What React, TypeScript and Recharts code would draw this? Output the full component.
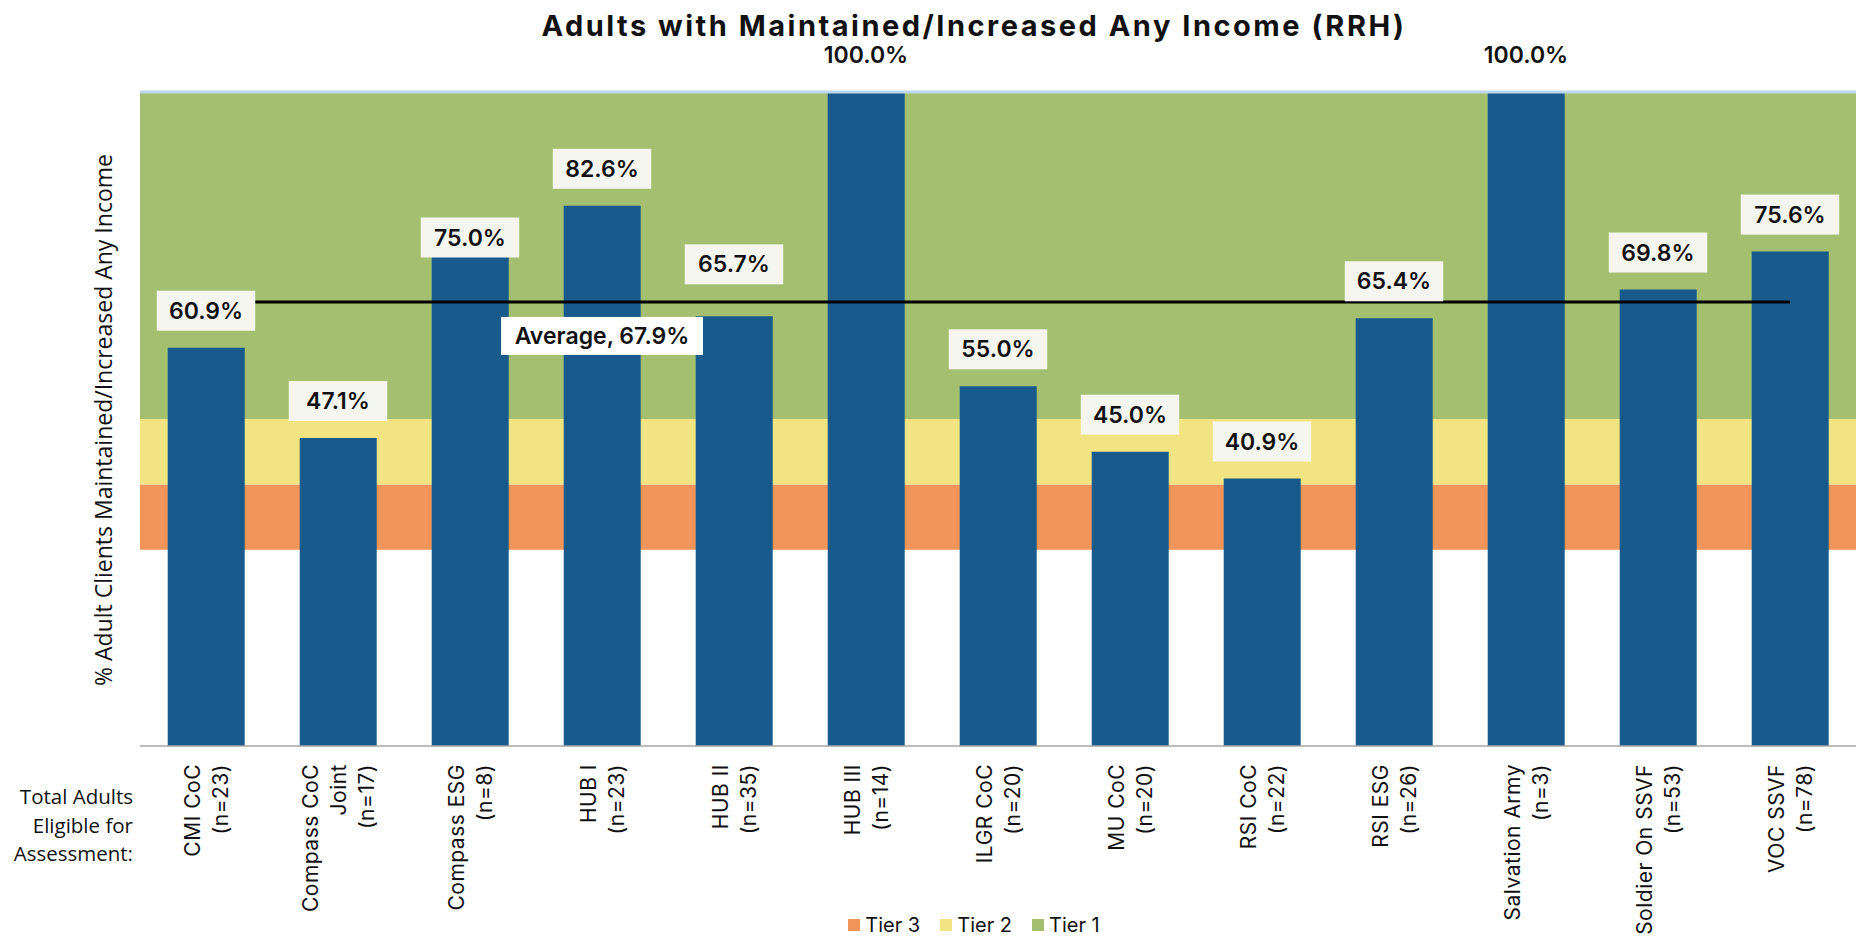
import React from 'react'
import {
  ComposedChart,
  Bar,
  Line,
  XAxis,
  YAxis,
  ReferenceArea,
  ReferenceLine,
  ReferenceDot,
  LabelList,
} from 'recharts'

const programs = [
  'CMI CoC',
  'Compass CoC\nJoint',
  'Compass ESG',
  'HUB I',
  'HUB II',
  'HUB III',
  'ILGR CoC',
  'MU CoC',
  'RSI CoC',
  'RSI ESG',
  'Salvation Army',
  'Soldier On SSVF',
  'VOC SSVF',
]
const eligible = [23, 17, 8, 23, 35, 14, 20, 20, 22, 26, 3, 53, 78]
const pctMaintained = [60.9, 47.1, 75.0, 82.6, 65.7, 100.0, 55.0, 45.0, 40.9, 65.4, 100.0, 69.8, 75.6]
const average = 67.9
const averageLabelAt = 'HUB I'

const tierNames = ['Tier 3', 'Tier 2', 'Tier 1']
const tierLow = [30, 40, 50]
const tierHigh = [40, 50, 100]
const tierColors = ['#F2955B', '#F2E482', '#A3BF6F']

const W = 1858
const H = 938
const PLOT_TOP = 92
const GEO = 'Inter, "Noto Sans", sans-serif'
const HUM = '"Open Sans", Lato, sans-serif'
const BAR = '#185A8B'
const FRAME = '#A6A6A6'

// a couple of the data labels were dragged by hand in the original
const labelNudge: Record<number, number> = { 2: 19, 4: -15 }

const rows = programs.map((p, i) => ({
  name: `${p}\n(n=${eligible[i]})`,
  value: pctMaintained[i],
}))
const avgRow = rows[programs.indexOf(averageLabelAt)]

function ProgramTick({ x, y, payload }: any) {
  const lines = String(payload.value).split('\n')
  return (
    <g transform={`translate(${x},${y + 18}) rotate(-90)`}>
      {lines.map((l, i) => (
        <text
          key={i}
          x={0}
          y={(i - (lines.length - 1) / 2) * 28}
          textAnchor="end"
          dominantBaseline="central"
          fontFamily={GEO}
          fontSize={21}
          letterSpacing={0.5}
          fill="#111"
        >
          {l}
        </text>
      ))}
    </g>
  )
}

function ValueBadge(props: any) {
  const x = props.x ?? props.viewBox?.x
  const y = props.y ?? props.viewBox?.y
  const text = `${Number(props.value).toFixed(1)}%`
  const cy = y - 37 + (labelNudge[props.index] ?? 0)
  const w = text.length * 14.5 + 26
  const boxTop = cy - 20
  return (
    <g>
      <rect x={x - w / 2} y={boxTop} width={w} height={40} fill={boxTop < PLOT_TOP ? '#FFFFFF' : '#F5F6F0'} />
      <text
        x={x}
        y={cy}
        textAnchor="middle"
        dominantBaseline="central"
        fontFamily={GEO}
        fontWeight={600}
        fontSize={23}
        fill="#111"
      >
        {text}
      </text>
    </g>
  )
}

function AverageBadge({ viewBox }: any) {
  const cx = viewBox.x + viewBox.width / 2
  const cy = viewBox.y + viewBox.height / 2 + 34
  const text = `Average, ${average.toFixed(1)}%`
  return (
    <g>
      <rect x={cx - 101} y={cy - 19} width={202} height={38} fill="#FFFFFF" />
      <text
        x={cx}
        y={cy}
        textAnchor="middle"
        dominantBaseline="central"
        fontFamily={GEO}
        fontWeight={600}
        fontSize={23}
        fill="#111"
      >
        {text}
      </text>
    </g>
  )
}

export default function App() {
  return (
    <div style={{ position: 'absolute', left: 0, top: 0, width: W, height: H, background: '#fff', overflow: 'hidden' }}>
      <ComposedChart width={W} height={H} data={rows} margin={{ top: PLOT_TOP, right: 2, bottom: 0, left: 140 }} barCategoryGap="21%">
        <XAxis
          dataKey="name"
          interval={0}
          height={192}
          tickLine={false}
          tickSize={0}
          tickMargin={0}
          axisLine={{ stroke: FRAME, strokeWidth: 1.5 }}
          tick={<ProgramTick />}
        />
        <YAxis domain={[0, 100]} width={0} tick={false} tickLine={false} axisLine={{ stroke: FRAME, strokeWidth: 1.5 }} />
        <YAxis
          yAxisId="r"
          orientation="right"
          domain={[0, 100]}
          width={0}
          tick={false}
          tickLine={false}
          axisLine={{ stroke: FRAME, strokeWidth: 1.5 }}
        />
        {tierNames.map((t, i) => (
          <ReferenceArea key={t} y1={tierLow[i]} y2={tierHigh[i]} fill={tierColors[i]} fillOpacity={1} stroke="none" />
        ))}
        <ReferenceLine y={100} stroke="#BDD7EE" strokeWidth={3} />
        <Bar dataKey="value" fill={BAR} isAnimationActive={false} />
        <ReferenceLine
          segment={[
            { x: rows[0].name, y: average },
            { x: rows[rows.length - 1].name, y: average },
          ]}
          stroke="#000"
          strokeWidth={3}
        />
        <ReferenceDot x={avgRow.name} y={average} r={1} fill="none" stroke="none" label={<AverageBadge />} />
        <Line dataKey="value" stroke="none" dot={false} activeDot={false} isAnimationActive={false}>
          <LabelList dataKey="value" content={<ValueBadge />} />
        </Line>
      </ComposedChart>

      <svg width={W} height={H} style={{ position: 'absolute', left: 0, top: 0, pointerEvents: 'none' }}>
        <text x={974} y={36} textAnchor="middle" fontFamily={GEO} fontWeight={700} fontSize={29} letterSpacing={2.5} fill="#111">
          Adults with Maintained/Increased Any Income (RRH)
        </text>
        <text
          transform="translate(103,420) rotate(-90)"
          textAnchor="middle"
          dominantBaseline="central"
          fontFamily={HUM}
          fontSize={23}
          fill="#111"
        >
          % Adult Clients Maintained/Increased Any Income
        </text>
        {['Total Adults', 'Eligible for', 'Assessment:'].map((l, i) => (
          <text key={l} x={133} y={804 + i * 28.5} textAnchor="end" fontFamily={HUM} fontSize={20.5} fill="#111">
            {l}
          </text>
        ))}
      </svg>

      <div
        style={{
          position: 'absolute',
          left: 0,
          top: 914,
          width: 974 * 2,
          display: 'flex',
          justifyContent: 'center',
          gap: 20,
          fontFamily: GEO,
          fontSize: 20,
          color: '#111',
          lineHeight: '22px',
        }}
      >
        {tierNames.map((t, i) => (
          <span key={t} style={{ display: 'flex', alignItems: 'center', gap: 5 }}>
            <span style={{ width: 12, height: 12, background: tierColors[i], display: 'inline-block' }} />
            {t}
          </span>
        ))}
      </div>
    </div>
  )
}
